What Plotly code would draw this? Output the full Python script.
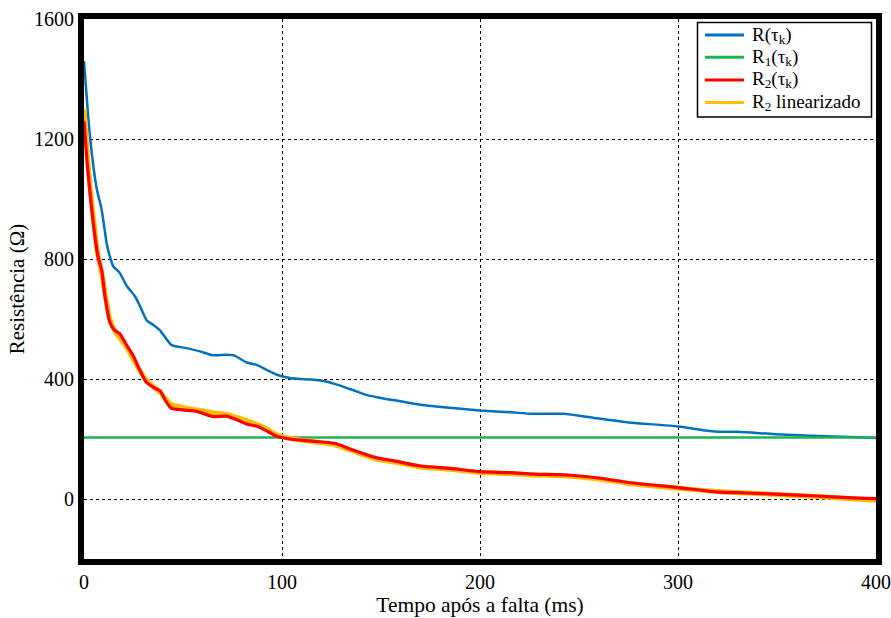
import plotly.graph_objects as go

# Data
t_R = [0, 3, 6.4, 8.9, 11.5, 13, 14.8, 17.9, 21.6, 25.8, 28.3, 31.7, 35, 38.4, 40.9, 44.3,
       51.8, 58.6, 65.3, 72, 76, 82.2, 87.2, 92.3, 97.4, 104, 109, 115, 121, 127, 135, 142,
       150, 156, 170, 186, 200, 216, 226, 242, 257, 275, 300, 314, 320, 330, 349, 367, 391, 400]
v_R = [1460, 1210, 1035, 965, 850, 810, 775, 755, 710, 675, 643, 595, 580, 562, 540, 513,
       503, 492, 479, 481, 478, 455, 447, 430, 414, 403, 400, 398, 393, 383, 365, 348,
       337, 330, 314, 303, 295, 289, 284, 284, 271, 255, 242, 228, 224, 224, 216, 211, 206, 203]

t_R1 = [0, 400]
v_R1 = [205, 205]

t_R2 = [0, 2, 4.5, 7, 9, 10.5, 13, 15.5, 18, 21.5, 25, 28, 31.5, 35, 38.5, 41, 44, 50, 57,
        65, 72, 79, 82, 87, 92, 97, 104, 110, 120, 127, 135, 148, 156, 170, 185, 200, 215,
        227, 244, 260, 275, 300, 319, 335, 349, 370, 391, 400]
v_R2 = [1260, 1090, 930, 810, 760, 680, 590, 562, 551, 513, 476, 432, 389, 373, 360, 330, 303,
        297, 292, 275, 276, 259, 250, 243, 228, 210, 200, 196, 190, 185, 165, 137, 128, 110,
        102, 91, 88, 83, 80, 70, 55, 38, 24, 20, 16, 10, 3, 1]

t_R2lin = [0, 2, 4.5, 7, 9, 10.5, 13, 16, 19, 22, 25, 28, 31.5, 35, 38.5, 41, 44, 50, 57,
           65, 72, 79, 85, 92, 97, 104, 110, 120, 127, 135, 148, 156, 170, 185, 200, 215,
           227, 244, 260, 275, 300, 320, 335, 350, 370, 390, 400]
v_R2lin = [1300, 1120, 950, 815, 750, 690, 600, 555, 530, 500, 465, 430, 395, 375, 355, 335,
           315, 305, 297, 288, 282, 268, 255, 235, 215, 202, 196, 188, 180, 162, 132, 124, 107,
           99, 88, 85, 80, 77, 67, 52, 36, 25, 20, 15, 8, 0, -4]

x_ticks = [0, 100, 200, 300, 400]
y_ticks = [0, 400, 800, 1200, 1600]

names = ["R(τ<sub>k</sub>)", "R<sub>1</sub>(τ<sub>k</sub>)",
         "R<sub>2</sub>(τ<sub>k</sub>)", "R<sub>2</sub> linearizado"]
colors = ["#0072BD", "#1DB254", "#FF0000", "#FFBE00"]

FONT = "Liberation Serif"

W, H = 891, 618
ML, MR, MT, MB = 84, 15, 19, 59
PW, PH = W - ML - MR, H - MT - MB


def px_x(p):
    return (p - ML) / PW


def px_y(p):
    return (H - MB - p) / PH


fig = go.Figure()
fig.add_trace(go.Scatter(x=t_R, y=v_R, mode="lines", name=names[0], showlegend=False,
                         line=dict(color=colors[0], width=2.5, shape="spline", smoothing=0.6)))
fig.add_trace(go.Scatter(x=t_R1, y=v_R1, mode="lines", name=names[1], showlegend=False,
                         line=dict(color=colors[1], width=2.5)))
fig.add_trace(go.Scatter(x=t_R2lin, y=v_R2lin, mode="lines", name=names[3], showlegend=False,
                         line=dict(color=colors[3], width=5, shape="spline", smoothing=0.6)))
fig.add_trace(go.Scatter(x=t_R2, y=v_R2, mode="lines", name=names[2], showlegend=False,
                         line=dict(color=colors[2], width=3.2, shape="spline", smoothing=0.6)))

# hand-drawn legend box (to match the compact row spacing of the original)
shapes = [dict(type="rect", xref="paper", yref="paper",
               x0=px_x(697.5), x1=px_x(871.5), y0=px_y(117), y1=px_y(22.5),
               line=dict(color="black", width=1.5), fillcolor="white", layer="above")]
annotations = []
rows = [35, 57.3, 80, 102.5]
for n, c, r in zip(names, colors, rows):
    shapes.append(dict(type="line", xref="paper", yref="paper",
                       x0=px_x(705), x1=px_x(744), y0=px_y(r), y1=px_y(r),
                       line=dict(color=c, width=3), layer="above"))
    annotations.append(dict(xref="paper", yref="paper", x=px_x(751), y=px_y(r),
                            xanchor="left", yanchor="middle", showarrow=False, text=n,
                            height=21, valign="middle", borderpad=0,
                            font=dict(family=FONT, size=19, color="black")))

fig.update_layout(
    width=W, height=H,
    margin=dict(l=ML, r=MR, t=MT, b=MB, pad=0),
    paper_bgcolor="white", plot_bgcolor="white",
    font=dict(family=FONT, size=20, color="black"),
    showlegend=False,
    shapes=shapes, annotations=annotations,
)
fig.update_xaxes(
    range=[0, 400], tickvals=x_ticks, ticktext=[str(v) for v in x_ticks],
    showgrid=True, gridcolor="black", gridwidth=1, griddash="dot", automargin=False,
    zeroline=False, showline=True, linecolor="black", linewidth=6, mirror=True,
    ticks="", tickfont=dict(family=FONT, size=20, color="black"),
    title=dict(text="Tempo após a falta (ms)", font=dict(family=FONT, size=21.5, color="black"), standoff=5),
)
fig.update_yaxes(
    range=[-200, 1600], tickvals=y_ticks, ticktext=[str(v) for v in y_ticks],
    showgrid=True, gridcolor="black", gridwidth=1, griddash="dot", automargin=False,
    zeroline=False, showline=True, linecolor="black", linewidth=6, mirror=True,
    ticks="", tickfont=dict(family=FONT, size=20, color="black"),
    title=dict(text="Resistência (Ω)", font=dict(family=FONT, size=21, color="black"), standoff=6),
)

fig.write_html("out.html")
